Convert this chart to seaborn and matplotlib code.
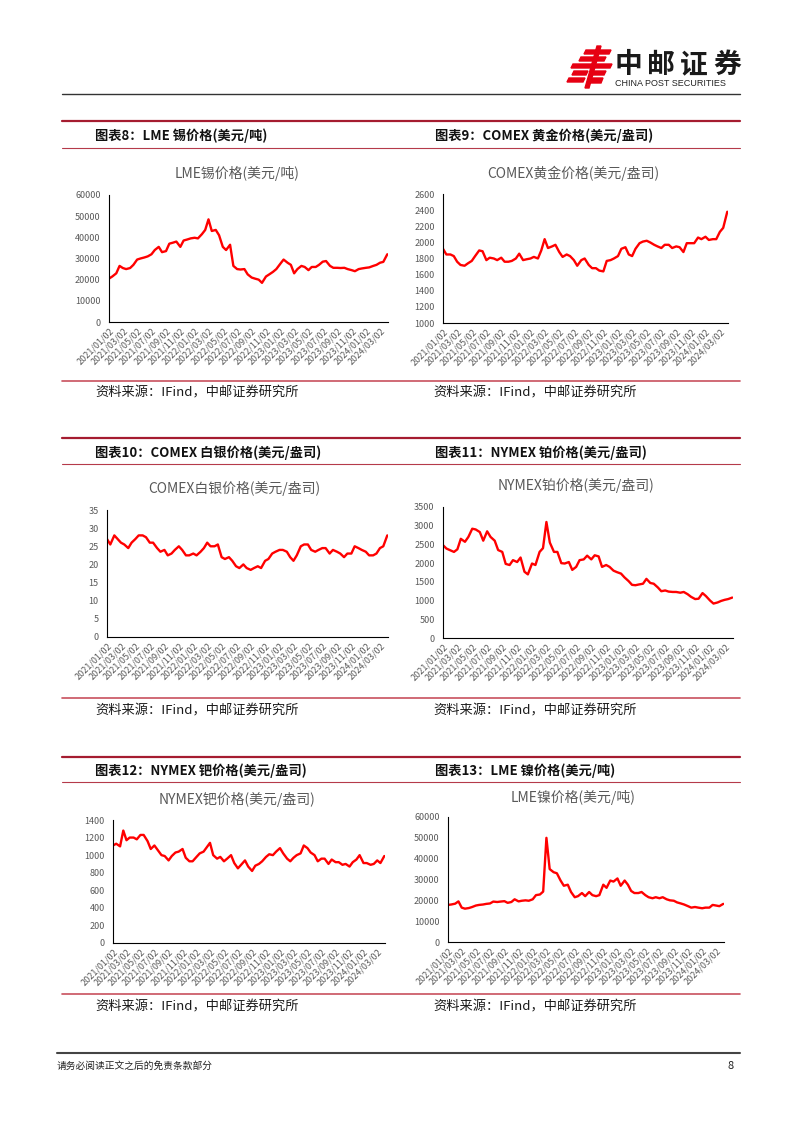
import numpy as np
import pandas as pd
import matplotlib
matplotlib.use('Agg')
import matplotlib.pyplot as plt
import seaborn as sns
from matplotlib.lines import Line2D
from matplotlib.patches import Polygon

W, H = 802, 1133

# 半月频率的日期（每月1日、16日）
dates = pd.date_range('2021-01-01', '2024-04-01', freq='SMS')
tick_labels = ['2021/01/02', '2021/03/02', '2021/05/02', '2021/07/02', '2021/09/02',
               '2021/11/02', '2022/01/02', '2022/03/02', '2022/05/02', '2022/07/02',
               '2022/09/02', '2022/11/02', '2023/01/02', '2023/03/02', '2023/05/02',
               '2023/07/02', '2023/09/02', '2023/11/02', '2024/01/02', '2024/03/02']

# LME锡 (美元/吨)
tin = [20500, 21500, 23000, 26500, 25500, 25000, 25500, 27000, 29500, 30000, 30500, 31000,
       32000, 34000, 35500, 33000, 33500, 37000, 37500, 38000, 35500, 38500, 39000, 39500,
       39800, 39500, 41500, 43500, 48500, 43000, 43500, 41000, 35500, 34000, 36500, 26500,
       25000, 24800, 25000, 22500, 21000, 20500, 20000, 18500, 21500, 22500, 23700, 25000,
       27500, 29500, 28000, 27000, 23000, 25000, 26500, 26000, 24500, 26000, 26000, 27000,
       28500, 28800, 26500, 25600, 25600, 25500, 25600, 25000, 24500, 24000, 25000, 25300,
       25600, 25800, 26500, 27000, 28000, 28400, 32000]

# COMEX黄金 (美元/盎司)
gold = [1920, 1850, 1850, 1830, 1760, 1720, 1710, 1740, 1770, 1830, 1900, 1890,
        1780, 1810, 1800, 1780, 1810, 1760, 1760, 1770, 1800, 1860, 1780, 1790,
        1800, 1820, 1800, 1900, 2040, 1930, 1950, 1970, 1880, 1820, 1850, 1830,
        1780, 1710, 1780, 1800, 1720, 1680, 1680, 1650, 1640, 1770, 1780, 1800,
        1830, 1920, 1940, 1850, 1830, 1920, 1990, 2010, 2020, 2000, 1970, 1950,
        1930, 1970, 1970, 1930, 1950, 1940, 1880, 1990, 1990, 1990, 2060, 2040,
        2070, 2030, 2040, 2040, 2130, 2180, 2380]

# COMEX白银 (美元/盎司)
silver = [27, 25.5, 28, 27, 26, 25.5, 24.5, 26, 27, 28, 28, 27.5,
          26, 26, 24.5, 23.5, 24, 22.5, 23, 24, 25, 24, 22.5, 22.5,
          23, 22.5, 23.5, 24.5, 26, 25, 25, 25.5, 22, 21.5, 22, 21,
          19.5, 19, 20, 19, 18.5, 19, 19.5, 19, 21, 21.5, 23, 23.5,
          24, 24, 23.5, 22, 21, 22.5, 25, 25.5, 25.5, 24, 23.5, 24,
          24.5, 24.5, 23, 24, 23.5, 23, 22, 23, 23, 25, 24.5, 24,
          23.5, 22.5, 22.5, 23, 24.5, 25, 28]

# NYMEX铂 (美元/盎司)
platinum = [2480, 2390, 2340, 2300, 2370, 2650, 2570, 2700, 2920, 2900, 2830, 2600,
            2850, 2700, 2600, 2350, 2300, 1980, 1950, 2080, 2030, 2150, 1770, 1700,
            1990, 1950, 2300, 2400, 3100, 2550, 2300, 2300, 2000, 1990, 2030, 1820,
            1900, 2080, 2100, 2200, 2100, 2210, 2180, 1900, 1950, 1900, 1800, 1760,
            1720, 1620, 1520, 1420, 1410, 1430, 1450, 1580, 1470, 1450, 1350, 1250,
            1270, 1240, 1230, 1230, 1210, 1230, 1170, 1100, 1040, 1050, 1200, 1120,
            1000, 920, 950, 990, 1020, 1040, 1080]

# NYMEX钯 (美元/盎司)
palladium = [1110, 1130, 1100, 1280, 1170, 1200, 1200, 1180, 1230, 1230, 1160, 1070,
             1110, 1060, 1000, 990, 940, 990, 1030, 1040, 1070, 970, 930, 930,
             980, 1020, 1040, 1090, 1140, 1000, 960, 980, 930, 960, 1000, 910,
             850, 890, 940, 870, 820, 880, 900, 930, 980, 1010, 1000, 1040,
             1080, 1020, 960, 930, 970, 1000, 1020, 1110, 1080, 1030, 1000, 930,
             960, 960, 900, 950, 920, 920, 890, 900, 870, 920, 950, 1000,
             910, 910, 890, 900, 940, 910, 990]

# LME镍 (美元/吨)
nickel = [17800, 18000, 18400, 19500, 16500, 16000, 16300, 16800, 17500, 17800, 18000, 18300,
          18500, 19400, 19200, 19400, 19600, 18800, 19200, 20500, 19500, 19800, 20000, 19800,
          20500, 22500, 22800, 24200, 50000, 35000, 33500, 33000, 29500, 27000, 27500, 24000,
          21500, 22000, 23500, 22000, 24000, 22500, 22000, 22500, 27500, 26000, 29500, 29000,
          30500, 27000, 29500, 27500, 24500, 23500, 23500, 24000, 22500, 21500, 21000, 21500,
          21000, 21500, 20500, 20000, 19800, 19000, 18500, 18000, 17200, 16500, 16800, 16500,
          16200, 16500, 16500, 17800, 17500, 17200, 18300]

sns.set_theme(style='white')
plt.rcParams['font.family'] = ['Noto Sans CJK SC', 'DejaVu Sans']
plt.rcParams['axes.unicode_minus'] = False

fig = plt.figure(figsize=(W / 100, H / 100), dpi=100)
fig.patch.set_facecolor('white')


def fx(x):
    return x / W


def fy(y):
    return 1 - y / H


def hline(x0, x1, y, color, lw):
    fig.add_artist(Line2D([fx(x0), fx(x1)], [fy(y), fy(y)], color=color, lw=lw,
                          transform=fig.transFigure))


def ftext(x, y, s, **kw):
    fig.text(fx(x), fy(y), s, va='center', **kw)


# 页眉：logo + 公司名
logo = [
    [(586, 50), (611, 50), (609, 54), (584, 54)],
    [(581, 57), (606, 57), (604, 61), (579, 61)],
    [(573, 64), (612, 64), (610, 68), (571, 68)],
    [(574, 71), (588, 71), (586, 75), (572, 75)],
    [(593, 71), (606, 71), (604, 75), (591, 75)],
    [(569, 78), (585, 78), (583, 82), (567, 82)],
    [(590, 78), (603, 78), (601, 83), (588, 83)],
    [(597, 46), (601, 46), (589, 88), (585, 88)],
]
for pts in logo:
    fig.add_artist(Polygon([(fx(a), fy(b)) for a, b in pts], closed=True,
                           color='#E60012', transform=fig.transFigure))
for ch, cx in zip('中邮证券', [628, 661, 694, 727]):
    fig.text(fx(cx), fy(65), ch, ha='center', va='center', fontsize=20,
             fontweight='bold', color='#1a1a1a')
ftext(615, 84, 'CHINA POST SECURITIES', fontsize=6.5, color='#222222',
      family=['Liberation Sans', 'DejaVu Sans'])
hline(62, 740, 94, '#333333', 1.0)

# 页脚
hline(57, 740, 1053, '#444444', 1.5)
ftext(57, 1066, '请务必阅读正文之后的免责条款部分', fontsize=7, color='#222222')
ftext(727, 1066, '8', fontsize=8, color='#222222')

# 三个分区（上/中/下）的标题线与来源线
sections = [
    dict(top=121, head=136, second=148, bottom=381, src=393),
    dict(top=438, head=453, second=464, bottom=698, src=711),
    dict(top=757, head=771, second=782, bottom=994, src=1007),
]
for s in sections:
    hline(62, 740, s['top'], '#A51C30', 1.6)
    hline(62, 740, s['second'], '#B53A4A', 0.8)
    hline(62, 740, s['bottom'], '#C8505E', 1.2)
    for x in (95, 433):
        ftext(x, s['src'], '资料来源：IFind，中邮证券研究所', fontsize=9.5, color='#1a1a1a')

panels = [
    dict(head='图表8：LME 锡价格(美元/吨)', title='LME锡价格(美元/吨)', y=tin,
         lim=(0, 60000, 10000), box=(109, 195, 388, 322), t=(237, 173), hx=95, sec=0),
    dict(head='图表9：COMEX 黄金价格(美元/盎司)', title='COMEX黄金价格(美元/盎司)', y=gold,
         lim=(1000, 2600, 200), box=(443, 194, 728, 323), t=(573, 173), hx=435, sec=0),
    dict(head='图表10：COMEX 白银价格(美元/盎司)', title='COMEX白银价格(美元/盎司)', y=silver,
         lim=(0, 35, 5), box=(107, 510, 388, 637), t=(234, 488), hx=95, sec=1),
    dict(head='图表11：NYMEX 铂价格(美元/盎司)', title='NYMEX铂价格(美元/盎司)', y=platinum,
         lim=(0, 3500, 500), box=(443, 507, 733, 638), t=(576, 485), hx=435, sec=1),
    dict(head='图表12：NYMEX 钯价格(美元/盎司)', title='NYMEX钯价格(美元/盎司)', y=palladium,
         lim=(0, 1400, 200), box=(113, 820, 385, 943), t=(237, 799), hx=95, sec=2),
    dict(head='图表13：LME 镍价格(美元/吨)', title='LME镍价格(美元/吨)', y=nickel,
         lim=(0, 60000, 10000), box=(448, 817, 724, 942), t=(573, 797), hx=435, sec=2),
]

tick_dates = pd.to_datetime(tick_labels, format='%Y/%m/%d')
x_end = pd.Timestamp('2024-04-04')

for p in panels:
    ftext(p['hx'], sections[p['sec']]['head'], p['head'], fontsize=9.5,
          fontweight='bold', color='#111111')
    fig.text(fx(p['t'][0]), fy(p['t'][1]), p['title'], ha='center', va='center',
             fontsize=10, color='#595959')

    x0, y0, x1, y1 = p['box']
    ax = fig.add_axes([fx(x0), fy(y1), (x1 - x0) / W, (y1 - y0) / H])
    df = pd.DataFrame({'date': dates, 'price': p['y']})
    sns.lineplot(data=df, x='date', y='price', ax=ax, color='#FF0000', lw=1.7)

    lo, hi, step = p['lim']
    ax.set_ylim(lo, hi)
    ax.set_yticks(np.arange(lo, hi + step / 2, step))
    ax.set_xlim(dates[0], x_end)
    ax.set_xticks(tick_dates)
    ax.set_xticklabels(tick_labels, rotation=45, ha='right', rotation_mode='anchor',
                       fontsize=6.5, color='#595959')
    ax.tick_params(axis='y', labelsize=6.5, labelcolor='#595959', length=0, pad=6)
    ax.tick_params(axis='x', length=0, pad=3)
    ax.set_xlabel('')
    ax.set_ylabel('')
    ax.grid(False)
    ax.set_facecolor('white')
    for side in ['top', 'right']:
        ax.spines[side].set_visible(False)
    for side in ['left', 'bottom']:
        ax.spines[side].set_color('black')
        ax.spines[side].set_linewidth(0.8)

fig.savefig('out.png', dpi=100, facecolor='white')
